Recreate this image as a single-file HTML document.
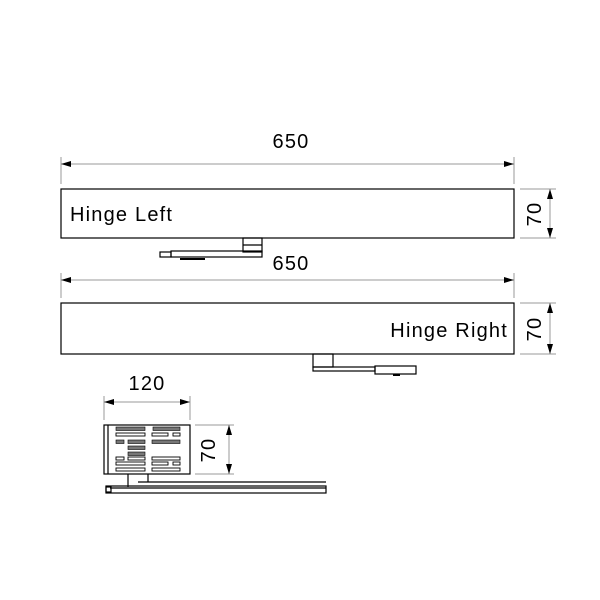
<!DOCTYPE html>
<html><head><meta charset="utf-8"><style>html,body{margin:0;padding:0;background:#fff}svg{display:block}</style></head>
<body>
<svg width="600" height="600" viewBox="0 0 600 600" xmlns="http://www.w3.org/2000/svg" font-family="Liberation Sans, sans-serif">
<defs>
<marker id="a" viewBox="0 0 10 6" refX="10" refY="3" markerWidth="10" markerHeight="6" orient="auto-start-reverse" markerUnits="userSpaceOnUse"><path d="M0,0L10,3L0,6z" fill="#000"/></marker>
</defs>
<g stroke="#999" stroke-width="1" fill="none">
<line x1="61" y1="157" x2="61" y2="184"/><line x1="514" y1="157" x2="514" y2="184"/>
<line x1="61" y1="164" x2="514" y2="164" marker-start="url(#a)" marker-end="url(#a)"/>
<line x1="61" y1="273" x2="61" y2="298"/><line x1="514" y1="273" x2="514" y2="298"/>
<line x1="61" y1="280" x2="514" y2="280" marker-start="url(#a)" marker-end="url(#a)"/>
<line x1="520" y1="189" x2="556" y2="189"/><line x1="520" y1="238" x2="556" y2="238"/>
<line x1="550" y1="189" x2="550" y2="238" marker-start="url(#a)" marker-end="url(#a)"/>
<line x1="520" y1="303" x2="556" y2="303"/><line x1="520" y1="354" x2="556" y2="354"/>
<line x1="550" y1="303" x2="550" y2="354" marker-start="url(#a)" marker-end="url(#a)"/>
<line x1="104" y1="396" x2="104" y2="420"/><line x1="190" y1="396" x2="190" y2="420"/>
<line x1="104" y1="402" x2="190" y2="402" marker-start="url(#a)" marker-end="url(#a)"/>
<line x1="195" y1="425" x2="234" y2="425"/><line x1="195" y1="474" x2="234" y2="474"/>
<line x1="229" y1="425" x2="229" y2="474" marker-start="url(#a)" marker-end="url(#a)"/>
</g>
<g font-size="20" fill="#000" letter-spacing="1.2">
<text x="291" y="148" text-anchor="middle">650</text>
<text x="291" y="270" text-anchor="middle">650</text>
<text x="147" y="390" text-anchor="middle">120</text>
<text transform="translate(541,214) rotate(-90)" text-anchor="middle">70</text>
<text transform="translate(541,329) rotate(-90)" text-anchor="middle">70</text>
<text transform="translate(215,450) rotate(-90)" text-anchor="middle">70</text>
<text x="70" y="221">Hinge Left</text>
<text x="508" y="337" text-anchor="end">Hinge Right</text>
</g>
<g stroke="#000" stroke-width="1.2" fill="none">
<rect x="61" y="189" width="453" height="49"/>
<rect x="61" y="303" width="453" height="51"/>
<rect x="243" y="238" width="19" height="14"/>
<line x1="243" y1="245" x2="262" y2="245"/>
<rect x="171" y="251" width="91" height="6"/>
<rect x="160" y="252" width="11" height="5"/>
<line x1="180" y1="259" x2="205" y2="259" stroke-width="2"/>
<rect x="313" y="354" width="20" height="13"/>
<rect x="313" y="367" width="62" height="4"/>
<rect x="375" y="366" width="41" height="8"/>
<line x1="393" y1="375" x2="400" y2="375" stroke-width="2"/>
<rect x="104" y="425" width="86" height="49"/>
<line x1="108" y1="425" x2="108" y2="474"/>
<line x1="128" y1="474" x2="128" y2="487"/>
<line x1="148" y1="474" x2="148" y2="482"/>
<line x1="138" y1="482" x2="326" y2="482"/>
<rect x="106" y="486" width="220" height="7"/>
<rect x="106" y="487" width="5" height="5"/>
<line x1="110" y1="488" x2="326" y2="488"/>
</g>
<g fill="#777" stroke="#000" stroke-width="0.6">
<rect x="116" y="427" width="29" height="3.5"/><rect x="153" y="427" width="27" height="3.5"/>
<rect x="116" y="440" width="8" height="3.5"/><rect x="128" y="440" width="17" height="3.5"/><rect x="152" y="440" width="28" height="3.5"/>
<rect x="128" y="446" width="17" height="3.5"/>
<rect x="128" y="452" width="17" height="3.5"/>
</g>
<g fill="#fff" stroke="#000" stroke-width="0.9">
<rect x="116" y="433" width="29" height="3"/><rect x="152" y="433" width="16" height="3"/><rect x="173" y="433" width="7" height="3"/>
<rect x="116" y="457" width="8" height="3"/><rect x="128" y="457" width="17" height="3"/><rect x="152" y="457" width="28" height="3"/>
<rect x="116" y="462" width="29" height="3"/><rect x="152" y="462" width="16" height="3"/><rect x="173" y="462" width="7" height="3"/>
<rect x="116" y="468" width="29" height="3"/><rect x="152" y="468" width="28" height="3"/>
</g>
</svg>
</body></html>
